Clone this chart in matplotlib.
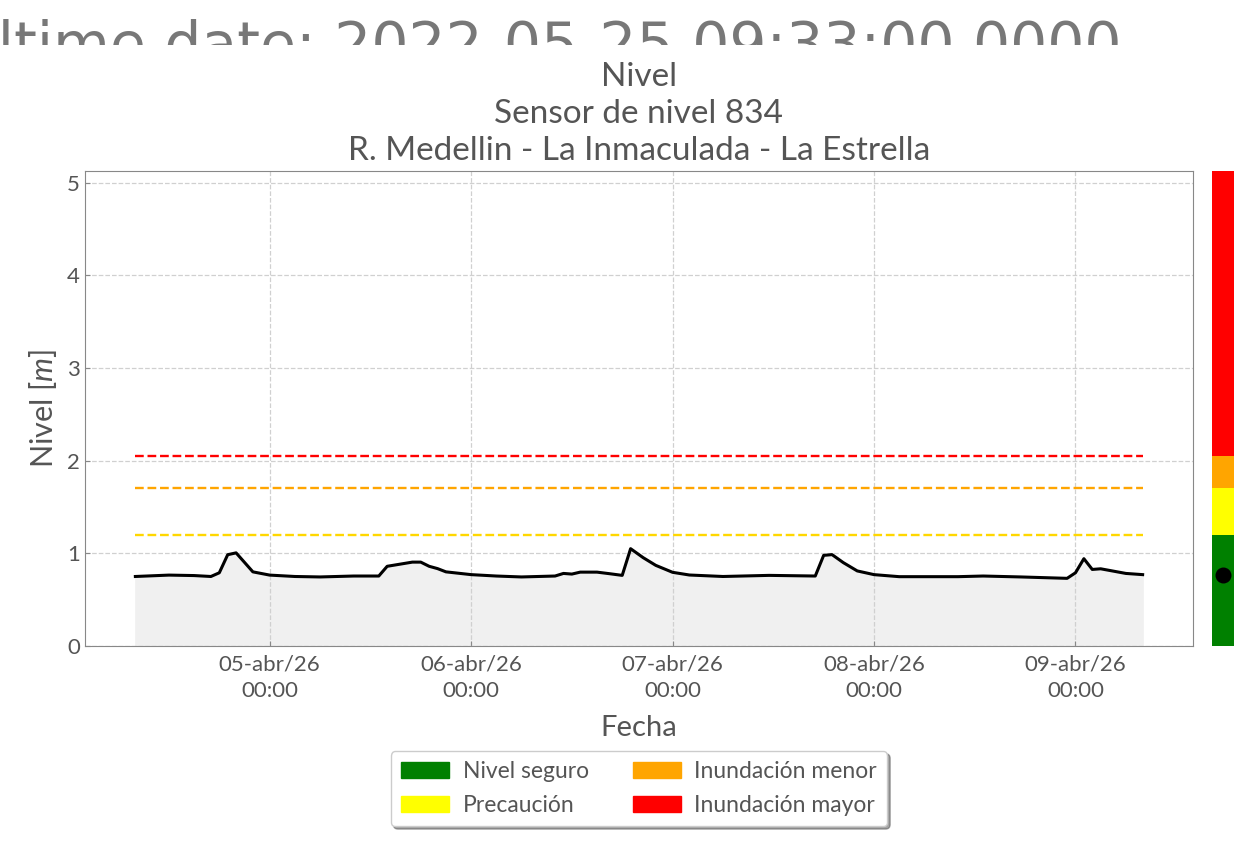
import numpy as np
import pandas as pd
import matplotlib
matplotlib.use("Agg")
import matplotlib.pyplot as plt
import matplotlib.dates as mdates
from matplotlib.patches import Patch
from matplotlib.transforms import Bbox, TransformedBbox

# serie de nivel (m)
fechas = pd.to_datetime([
    "2026-04-04 08:00", "2026-04-04 12:00", "2026-04-04 15:00", "2026-04-04 17:00",
    "2026-04-04 18:00", "2026-04-04 19:00", "2026-04-04 20:00", "2026-04-04 22:00",
    "2026-04-05 00:00", "2026-04-05 03:00", "2026-04-05 06:00", "2026-04-05 10:00",
    "2026-04-05 13:00", "2026-04-05 14:00", "2026-04-05 15:00", "2026-04-05 17:00",
    "2026-04-05 18:00", "2026-04-05 19:00", "2026-04-05 20:00", "2026-04-05 21:00",
    "2026-04-06 00:00", "2026-04-06 03:00", "2026-04-06 06:00", "2026-04-06 10:00",
    "2026-04-06 11:00", "2026-04-06 12:00", "2026-04-06 13:00", "2026-04-06 15:00",
    "2026-04-06 16:30", "2026-04-06 18:00", "2026-04-06 19:00", "2026-04-06 20:30",
    "2026-04-06 22:00", "2026-04-07 00:00", "2026-04-07 02:00", "2026-04-07 06:00",
    "2026-04-07 11:30", "2026-04-07 17:00", "2026-04-07 18:00", "2026-04-07 19:00",
    "2026-04-07 20:20", "2026-04-07 22:00", "2026-04-08 00:00", "2026-04-08 03:00",
    "2026-04-08 10:00", "2026-04-08 13:00", "2026-04-08 17:30", "2026-04-08 23:00",
    "2026-04-09 00:00", "2026-04-09 01:00", "2026-04-09 02:00", "2026-04-09 03:00",
    "2026-04-09 04:30", "2026-04-09 06:00", "2026-04-09 08:00",
])
nivel = [
    0.750, 0.765, 0.760, 0.750, 0.790, 0.985, 1.005, 0.800,
    0.765, 0.750, 0.745, 0.755, 0.755, 0.860, 0.875, 0.905,
    0.905, 0.860, 0.835, 0.800, 0.770, 0.755, 0.745, 0.755,
    0.783, 0.776, 0.797, 0.797, 0.780, 0.762, 1.050, 0.953,
    0.870, 0.795, 0.766, 0.750, 0.762, 0.755, 0.978, 0.986,
    0.900, 0.810, 0.770, 0.748, 0.748, 0.755, 0.745, 0.730,
    0.790, 0.942, 0.826, 0.833, 0.808, 0.783, 0.770,
]

# umbrales de alerta
umbrales = [1.2, 1.7, 2.05]
colores_umbral = ["gold", "orange", "red"]
etiquetas = ["Nivel seguro", "Precaución", "Inundación menor", "Inundación mayor"]
colores_nivel = ["green", "yellow", "orange", "red"]

meses = ["ene", "feb", "mar", "abr", "may", "jun", "jul", "ago", "sep", "oct", "nov", "dic"]

plt.rcParams["font.family"] = ["Lato", "DejaVu Sans"]
plt.rcParams["mathtext.fontset"] = "custom"
plt.rcParams["mathtext.it"] = "Lato:italic"
plt.rcParams["mathtext.rm"] = "Lato"
texto = "#555555"

fig = plt.figure(figsize=(12.36, 8.42), dpi=100)
ax = fig.add_axes([85 / 1236, 1 - 646 / 842, (1193 - 85) / 1236, 475 / 842])

ymax = umbrales[-1] * 2.5
ax.fill_between(fechas, 0, nivel, color="#f0f0f0", zorder=1)
ax.plot(fechas, nivel, color="black", lw=2.2, zorder=3)
for u, c in zip(umbrales, colores_umbral):
    ax.plot([fechas[0], fechas[-1]], [u, u], color=c, ls="--", lw=1.7, zorder=2)

ax.set_ylim(0, ymax)
ax.margins(x=0.05)
ax.xaxis.set_major_locator(mdates.DayLocator())
ax.xaxis.set_major_formatter(plt.FuncFormatter(
    lambda v, pos: (lambda d: f"{d:%d}-{meses[d.month - 1]}/{d:%y}\n{d:%H:%M}")(mdates.num2date(v))))
ax.grid(True, ls="--", color="#d0d0d0", lw=0.9)
ax.tick_params(direction="in", labelsize=16, labelcolor=texto, color="#888888")
ax.tick_params(axis="x", pad=6)
for lbl in ax.get_xticklabels():
    lbl.set_linespacing(1.4)
for s in ax.spines.values():
    s.set_color("#888888")
ax.set_xlabel("Fecha", fontsize=21, color=texto, labelpad=10)
ax.set_ylabel("Nivel [$m$]", fontsize=22, color=texto, labelpad=6)
ax.set_title("Nivel\nSensor de nivel 834\nR. Medellin - La Inmaculada - La Estrella",
             fontsize=24, color=texto, pad=8, linespacing=1.28)

ax.legend(handles=[Patch(color=c, label=l) for c, l in zip(colores_nivel, etiquetas)],
          ncol=2, loc="upper center", bbox_to_anchor=(0.5, -0.197), fontsize=16.5,
          frameon=True, fancybox=True, shadow=True, labelcolor=texto,
          handlelength=2.1, handleheight=0.7, columnspacing=1.9, handletextpad=0.6,
          borderpad=0.45, labelspacing=0.55)

# barra lateral de estado
axb = fig.add_axes([1212 / 1236, 1 - 646 / 842, 22 / 1236, 475 / 842])
limites = [0] + umbrales + [ymax]
for i, c in enumerate(colores_nivel):
    axb.bar(0, limites[i + 1] - limites[i], bottom=limites[i], width=1, color=c)
axb.scatter(0, nivel[-1], s=110, color="black", zorder=3)
axb.set_xlim(-0.5, 0.5)
axb.set_ylim(0, ymax)
axb.axis("off")

# texto grande recortado en la parte superior
t = fig.text(1122 / 1236, 1 - 64 / 842, "Realtime date: 2022-05-25 09:33:00.0000",
             fontsize=42, color="#787878", ha="right", va="baseline", family="DejaVu Sans")
t.set_clip_box(TransformedBbox(Bbox([[0, 1 - 45 / 842], [1, 1]]), fig.transFigure))
t.set_clip_on(True)

fig.savefig("out.png", dpi=100)
